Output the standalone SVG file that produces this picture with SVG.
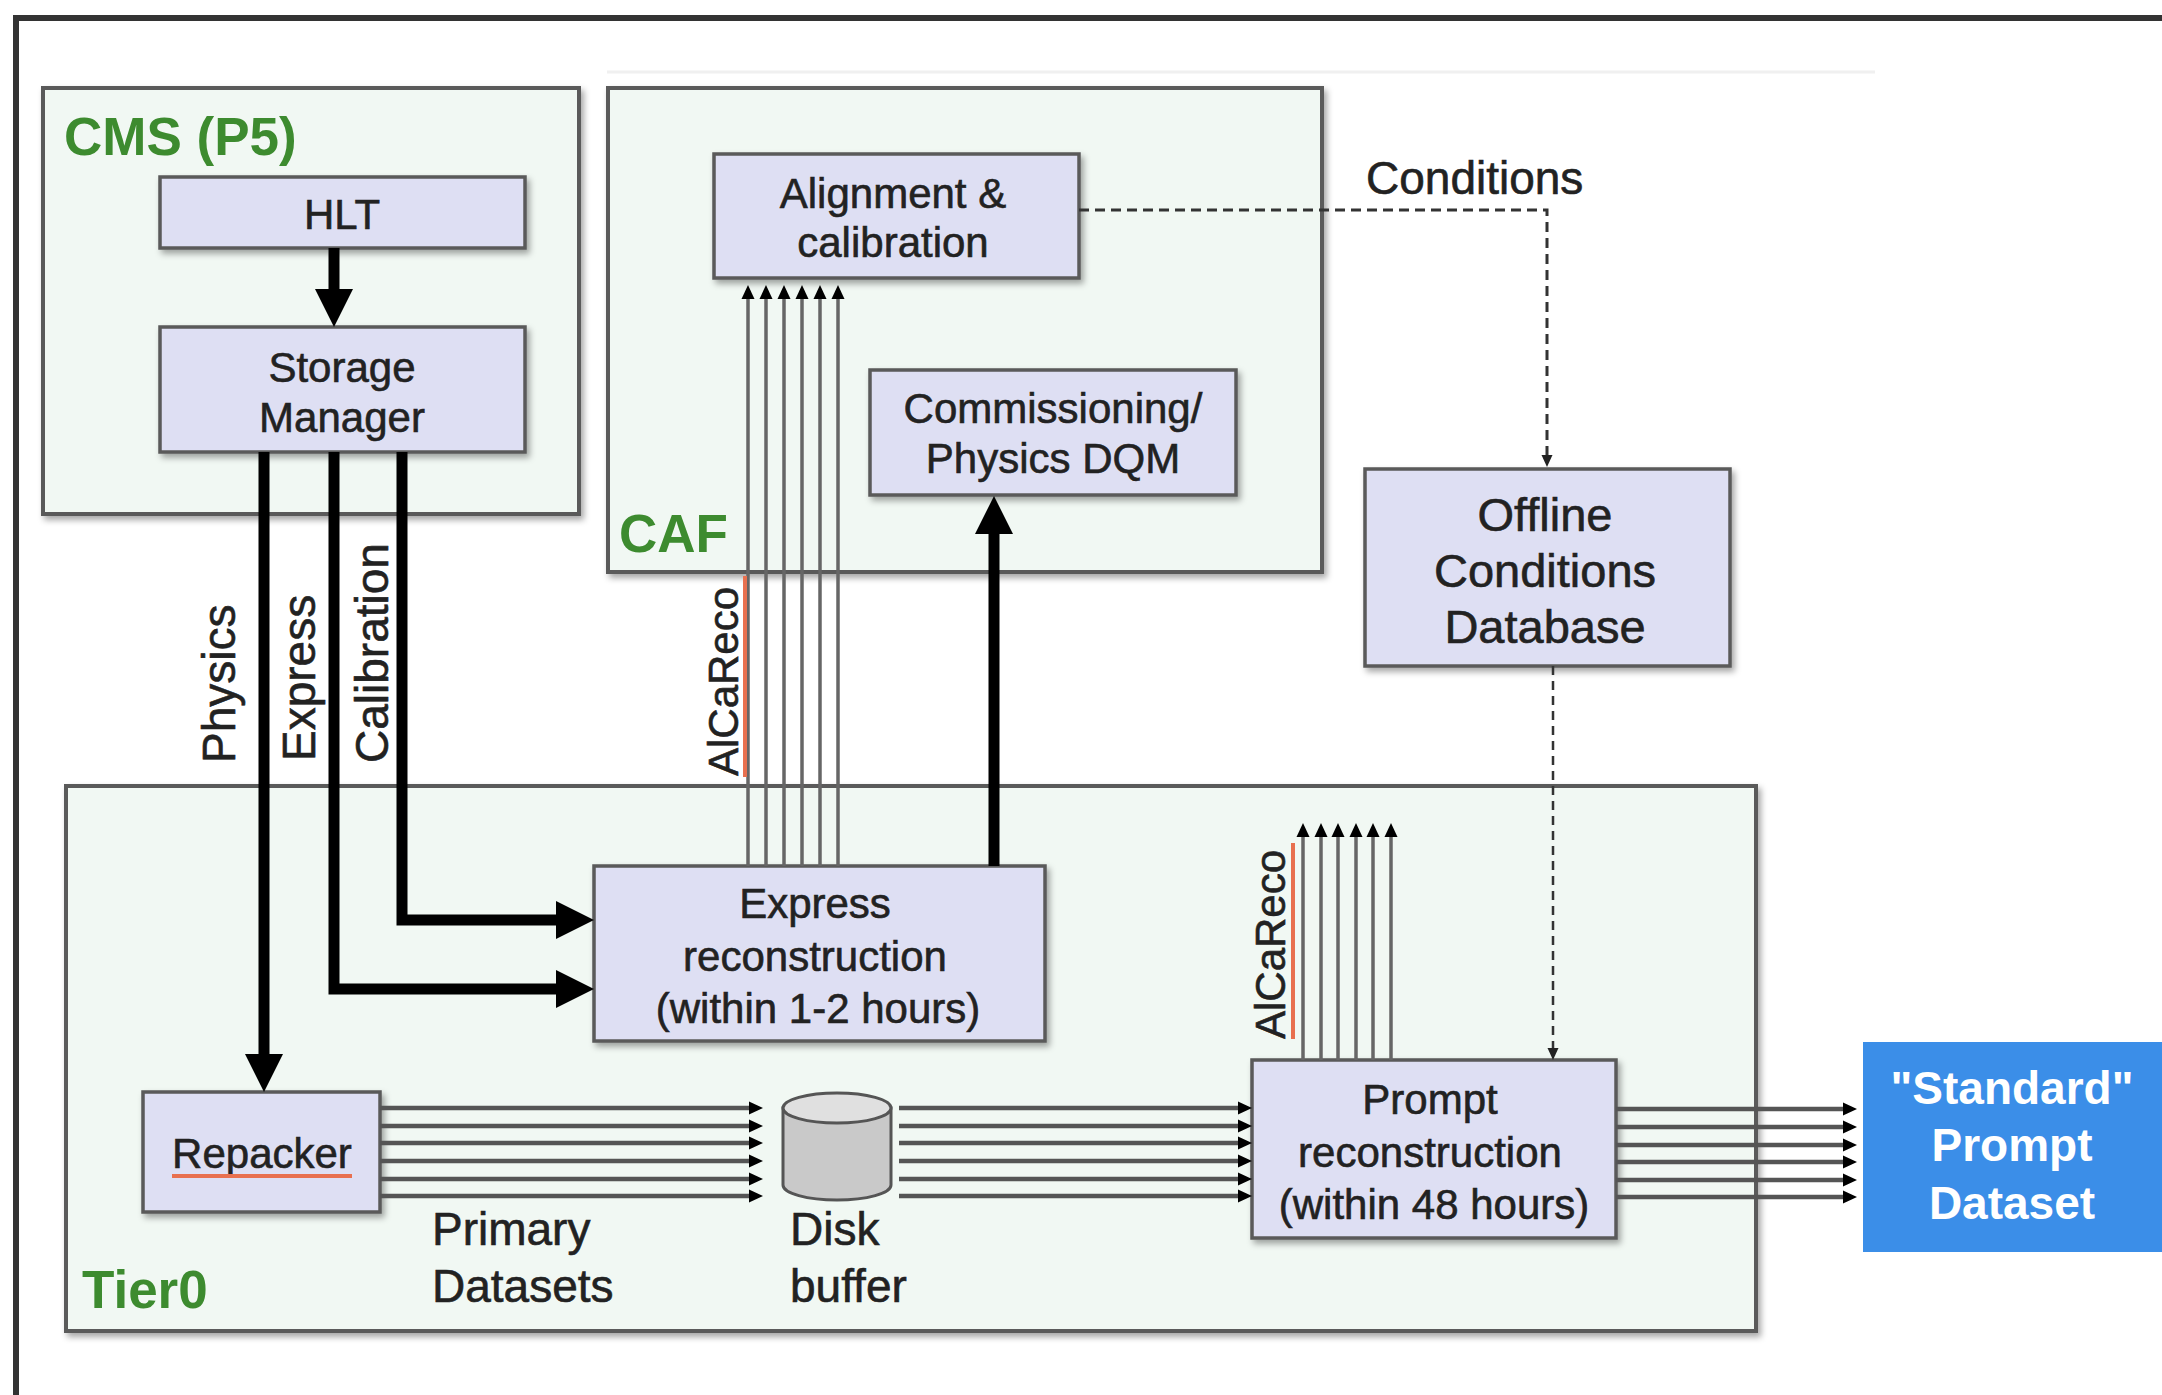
<svg xmlns="http://www.w3.org/2000/svg" width="2162" height="1395" viewBox="0 0 2162 1395">
  <defs>
    <style>
      text { font-family: "Liberation Sans", Arial, Helvetica, sans-serif; fill: #222; stroke: #222; stroke-width: 0.6; }
      .container { fill: #f1f8f3; stroke: #5a5a5a; stroke-width: 4; filter: url(#shadow); }
      .node { fill: #dedff3; stroke: #5a5a5a; stroke-width: 3.5; filter: url(#shadow); }
      .group-label { font-weight: bold; font-size: 53px; fill: #3d8b2f; stroke: none; }
      .label { font-size: 42px; text-anchor: middle; }
      .label-lg { font-size: 47px; text-anchor: middle; }
      .edge-label { font-size: 46px; }
      .alca { font-size: 42px; }
      .thick { fill: none; stroke: #000; stroke-width: 11; stroke-linejoin: miter; }
      .stream-h { fill: none; stroke: #555; stroke-width: 4.5; }
      .stream-v { fill: none; stroke: #666; stroke-width: 3.5; }
      .dashed { fill: none; stroke: #333; stroke-width: 3; stroke-dasharray: 10 6; }
      .dashed-thin { fill: none; stroke: #333; stroke-width: 2.5; stroke-dasharray: 9 6; }
      .squiggle { fill: none; stroke: #e8704f; stroke-width: 4; }
      .frame { fill: none; stroke: #333; stroke-width: 6; }
    </style>
    <filter id="shadow" x="-5%" y="-5%" width="115%" height="125%">
      <feDropShadow dx="3" dy="4" stdDeviation="3" flood-color="#000" flood-opacity="0.35"/>
    </filter>
    <marker id="bigHead" markerUnits="userSpaceOnUse" markerWidth="40" markerHeight="40" refX="18" refY="19" orient="auto">
      <path d="M0,0 L38,19 L0,38 z" fill="#000"/>
    </marker>
    <marker id="smallHead" markerUnits="userSpaceOnUse" markerWidth="16" markerHeight="14" refX="6" refY="7" orient="auto">
      <path d="M0,0.5 L14,7 L0,13.5 z" fill="#000"/>
    </marker>
    <marker id="dashHead" markerUnits="userSpaceOnUse" markerWidth="14" markerHeight="12" refX="4" refY="5.5" orient="auto">
      <path d="M0,0 L12,5.5 L0,11 z" fill="#222"/>
    </marker>
  </defs>

  <rect x="0" y="0" width="2162" height="1395" fill="#fff"/>

  <!-- page frame -->
  <path class="frame" d="M2162,18 H16 V1395"/>
  <line x1="607" y1="72" x2="1875" y2="72" stroke="#f0f0f0" stroke-width="3"/>

  <!-- containers -->
  <g id="cms">
    <rect class="container" x="43" y="88" width="536" height="426"/>
    <text class="group-label" x="64" y="155">CMS (P5)</text>
  </g>
  <g id="caf">
    <rect class="container" x="608" y="88" width="714" height="484"/>
    <text class="group-label" x="619" y="552">CAF</text>
  </g>
  <g id="tier0">
    <rect class="container" x="66" y="786" width="1690" height="545"/>
    <text class="group-label" x="82" y="1308">Tier0</text>
  </g>

  <!-- nodes -->
  <g id="hlt">
    <rect class="node" x="160" y="177" width="365" height="71"/>
    <text class="label" x="342" y="229">HLT</text>
  </g>
  <g id="storage-manager">
    <rect class="node" x="160" y="327" width="365" height="125"/>
    <text class="label"><tspan x="342" y="382">Storage</tspan><tspan x="342" y="432">Manager</tspan></text>
  </g>
  <g id="alignment">
    <rect class="node" x="714" y="154" width="365" height="124"/>
    <text class="label"><tspan x="893" y="208">Alignment &amp;</tspan><tspan x="893" y="257">calibration</tspan></text>
  </g>
  <g id="commissioning">
    <rect class="node" x="870" y="370" width="366" height="125"/>
    <text class="label"><tspan x="1053" y="423">Commissioning/</tspan><tspan x="1053" y="473">Physics DQM</tspan></text>
  </g>
  <g id="offline-db">
    <rect class="node" x="1365" y="469" width="365" height="197"/>
    <text class="label-lg"><tspan x="1545" y="531">Offline</tspan><tspan x="1545" y="587">Conditions</tspan><tspan x="1545" y="643">Database</tspan></text>
  </g>
  <g id="express-reco">
    <rect class="node" x="594" y="866" width="451" height="175"/>
    <text class="label"><tspan x="815" y="918">Express</tspan><tspan x="815" y="971">reconstruction</tspan><tspan x="818" y="1023">(within 1-2 hours)</tspan></text>
  </g>
  <g id="repacker">
    <rect class="node" x="143" y="1092" width="237" height="120"/>
    <text class="label" x="262" y="1168">Repacker</text>
    <line class="squiggle" x1="172" y1="1176" x2="352" y2="1176"/>
  </g>
  <g id="disk-buffer">
    <path d="M783,1108 V1185 A54,15 0 0 0 891,1185 V1108 Z" fill="#c9c9c9" stroke="#555" stroke-width="3"/>
    <ellipse cx="837" cy="1108" rx="54" ry="15" fill="#e0e0e0" stroke="#555" stroke-width="3"/>
    <text class="edge-label"><tspan x="790" y="1245">Disk</tspan><tspan x="790" y="1302">buffer</tspan></text>
  </g>
  <g id="prompt-reco">
    <rect class="node" x="1252" y="1060" width="364" height="178"/>
    <text class="label"><tspan x="1430" y="1114">Prompt</tspan><tspan x="1430" y="1167">reconstruction</tspan><tspan x="1434" y="1219">(within 48 hours)</tspan></text>
  </g>
  <g id="standard-dataset">
    <rect x="1863" y="1042" width="299" height="210" fill="#3b8ee8"/>
    <text style="fill:#fff;stroke:none;font-weight:bold;font-size:46px;text-anchor:middle"><tspan x="2012" y="1104">"Standard"</tspan><tspan x="2012" y="1161">Prompt</tspan><tspan x="2012" y="1219">Dataset</tspan></text>
  </g>

  <!-- connectors -->
  <g id="connectors">
    <!-- HLT to Storage Manager -->
    <path class="thick" d="M334,248 V307" marker-end="url(#bigHead)"/>
    <!-- streams out of the Storage Manager -->
    <path class="thick" d="M264,452 V1072" marker-end="url(#bigHead)"/>
    <path class="thick" d="M334,452 V989 H574" marker-end="url(#bigHead)"/>
    <path class="thick" d="M402,452 V920 H574" marker-end="url(#bigHead)"/>
    <!-- Express reconstruction to DQM -->
    <path class="thick" d="M994,866 V516" marker-end="url(#bigHead)"/>

    <!-- AlCaReco from express reconstruction -->
    <g class="alcareco-express">
      <path class="stream-v" d="M748,866 V293" marker-end="url(#smallHead)"/>
      <path class="stream-v" d="M766,866 V293" marker-end="url(#smallHead)"/>
      <path class="stream-v" d="M784,866 V293" marker-end="url(#smallHead)"/>
      <path class="stream-v" d="M802,866 V293" marker-end="url(#smallHead)"/>
      <path class="stream-v" d="M820,866 V293" marker-end="url(#smallHead)"/>
      <path class="stream-v" d="M838,866 V293" marker-end="url(#smallHead)"/>
    </g>
    <!-- AlCaReco from prompt reconstruction -->
    <g class="alcareco-prompt">
      <path class="stream-v" d="M1303,1060 V831" marker-end="url(#smallHead)"/>
      <path class="stream-v" d="M1321,1060 V831" marker-end="url(#smallHead)"/>
      <path class="stream-v" d="M1338,1060 V831" marker-end="url(#smallHead)"/>
      <path class="stream-v" d="M1356,1060 V831" marker-end="url(#smallHead)"/>
      <path class="stream-v" d="M1373,1060 V831" marker-end="url(#smallHead)"/>
      <path class="stream-v" d="M1391,1060 V831" marker-end="url(#smallHead)"/>
    </g>

    <!-- primary datasets: repacker to disk buffer -->
    <g class="primary">
      <path class="stream-h" d="M380,1108 H755" marker-end="url(#smallHead)"/>
      <path class="stream-h" d="M380,1126 H755" marker-end="url(#smallHead)"/>
      <path class="stream-h" d="M380,1143 H755" marker-end="url(#smallHead)"/>
      <path class="stream-h" d="M380,1161 H755" marker-end="url(#smallHead)"/>
      <path class="stream-h" d="M380,1179 H755" marker-end="url(#smallHead)"/>
      <path class="stream-h" d="M380,1196 H755" marker-end="url(#smallHead)"/>
    </g>
    <!-- disk buffer to prompt reconstruction -->
    <g class="to-prompt">
      <path class="stream-h" d="M899,1108 H1244" marker-end="url(#smallHead)"/>
      <path class="stream-h" d="M899,1126 H1244" marker-end="url(#smallHead)"/>
      <path class="stream-h" d="M899,1143 H1244" marker-end="url(#smallHead)"/>
      <path class="stream-h" d="M899,1161 H1244" marker-end="url(#smallHead)"/>
      <path class="stream-h" d="M899,1179 H1244" marker-end="url(#smallHead)"/>
      <path class="stream-h" d="M899,1196 H1244" marker-end="url(#smallHead)"/>
    </g>
    <!-- prompt reconstruction to standard dataset -->
    <g class="to-dataset">
      <path class="stream-h" d="M1616,1109 H1849" marker-end="url(#smallHead)"/>
      <path class="stream-h" d="M1616,1127 H1849" marker-end="url(#smallHead)"/>
      <path class="stream-h" d="M1616,1145 H1849" marker-end="url(#smallHead)"/>
      <path class="stream-h" d="M1616,1162 H1849" marker-end="url(#smallHead)"/>
      <path class="stream-h" d="M1616,1180 H1849" marker-end="url(#smallHead)"/>
      <path class="stream-h" d="M1616,1197 H1849" marker-end="url(#smallHead)"/>
    </g>

    <!-- conditions flow -->
    <path class="dashed" d="M1079,210 H1547 V459" marker-end="url(#dashHead)"/>
    <path class="dashed-thin" d="M1553,666 V1052" marker-end="url(#dashHead)"/>

    <!-- edge labels -->
    <text class="edge-label" x="1366" y="194">Conditions</text>
    <text class="edge-label" transform="translate(235,763) rotate(-90)">Physics</text>
    <text class="edge-label" transform="translate(315,761) rotate(-90)">Express</text>
    <text class="edge-label" transform="translate(388,763) rotate(-90)">Calibration</text>
    <text class="edge-label"><tspan x="432" y="1245">Primary</tspan><tspan x="432" y="1302">Datasets</tspan></text>
    <text class="alca" transform="translate(738,776) rotate(-90)">AlCaReco</text>
    <line class="squiggle" x1="745" y1="576" x2="745" y2="777"/>
    <text class="alca" transform="translate(1285,1039) rotate(-90)">AlCaReco</text>
    <line class="squiggle" x1="1293" y1="843" x2="1293" y2="1039"/>
  </g>
</svg>
